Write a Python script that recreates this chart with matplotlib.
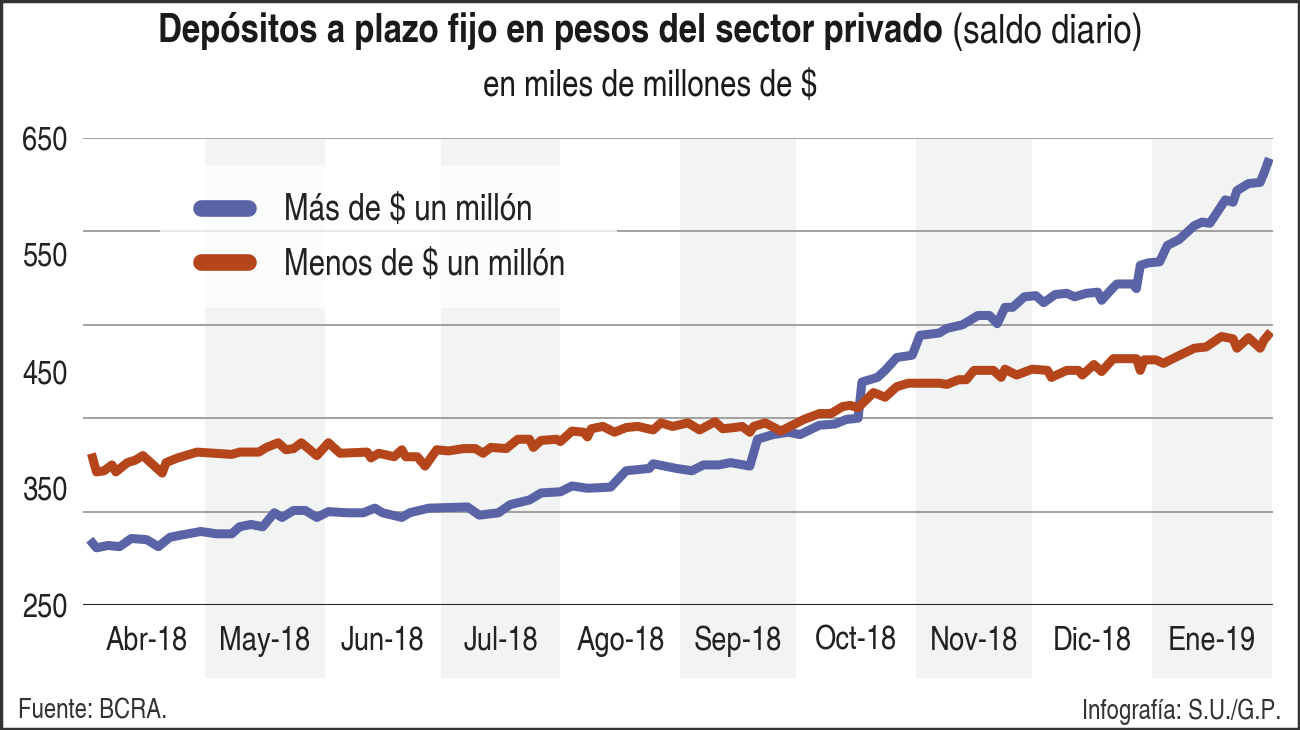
#Depósitos a plazo fijo en pesos del sector privado

import matplotlib.pyplot as plt
from matplotlib.lines import Line2D
from matplotlib.patches import Rectangle
import pandas as pd

plt.rcParams['font.family'] = ['TeX Gyre Heros Cn', 'Roboto Condensed', 'DejaVu Sans']

#Datos (miles de millones de $)
fechas_mas = ["2018-04-02", "2018-04-03", "2018-04-06", "2018-04-09", "2018-04-12", "2018-04-16",
              "2018-04-19", "2018-04-22", "2018-04-25", "2018-04-30", "2018-05-04", "2018-05-08",
              "2018-05-10", "2018-05-13", "2018-05-16", "2018-05-19", "2018-05-21", "2018-05-24",
              "2018-05-27", "2018-05-30", "2018-06-02", "2018-06-07", "2018-06-11", "2018-06-14",
              "2018-06-16", "2018-06-21", "2018-06-23", "2018-06-28", "2018-07-08", "2018-07-11",
              "2018-07-16", "2018-07-19", "2018-07-24", "2018-07-27", "2018-08-01", "2018-08-04",
              "2018-08-08", "2018-08-14", "2018-08-18", "2018-08-24", "2018-08-25", "2018-08-31",
              "2018-09-04", "2018-09-07", "2018-09-11", "2018-09-14", "2018-09-19", "2018-09-21",
              "2018-09-25", "2018-09-29", "2018-10-02", "2018-10-07", "2018-10-11", "2018-10-14",
              "2018-10-17", "2018-10-18", "2018-10-22", "2018-10-24", "2018-10-27", "2018-10-31",
              "2018-11-02", "2018-11-07", "2018-11-09", "2018-11-13", "2018-11-17", "2018-11-20",
              "2018-11-22", "2018-11-24", "2018-11-26", "2018-11-29", "2018-12-02", "2018-12-04",
              "2018-12-07", "2018-12-10", "2018-12-12", "2018-12-15", "2018-12-18", "2018-12-19",
              "2018-12-22", "2018-12-23", "2018-12-27", "2018-12-28", "2018-12-29", "2018-12-31",
              "2019-01-03", "2019-01-05", "2019-01-08", "2019-01-12", "2019-01-14", "2019-01-16",
              "2019-01-20", "2019-01-22", "2019-01-23", "2019-01-26", "2019-01-29", "2019-01-30",
              "2019-01-31"]
mas_millon = [303, 299, 301, 300, 307, 306, 300, 308, 310, 313, 311, 311,
              317, 319, 317, 329, 325, 331, 331, 325, 330, 329, 329, 333,
              329, 325, 329, 333, 334, 327, 329, 336, 340, 346, 347, 352,
              350, 351, 365, 367, 371, 367, 365, 370, 370, 372, 369, 392,
              396, 398, 396, 404, 405, 409, 410, 441, 445, 451, 462, 464,
              481, 483, 487, 490, 498, 498, 491, 505, 505, 514, 515, 509,
              516, 517, 514, 517, 518, 511, 522, 525, 525, 521, 541, 543,
              544, 558, 563, 575, 578, 577, 597, 595, 605, 611, 612, 620,
              629]

fechas_menos = ["2018-04-02", "2018-04-03", "2018-04-05", "2018-04-07", "2018-04-08", "2018-04-11",
                "2018-04-13", "2018-04-15", "2018-04-17", "2018-04-20", "2018-04-21", "2018-04-24",
                "2018-04-26", "2018-04-29", "2018-05-08", "2018-05-10", "2018-05-15", "2018-05-17",
                "2018-05-20", "2018-05-22", "2018-05-24", "2018-05-26", "2018-05-30", "2018-06-02",
                "2018-06-05", "2018-06-12", "2018-06-13", "2018-06-15", "2018-06-19", "2018-06-21",
                "2018-06-22", "2018-06-25", "2018-06-27", "2018-06-30", "2018-07-03", "2018-07-07",
                "2018-07-10", "2018-07-12", "2018-07-14", "2018-07-18", "2018-07-21", "2018-07-24",
                "2018-07-25", "2018-07-27", "2018-07-31", "2018-08-01", "2018-08-04", "2018-08-07",
                "2018-08-08", "2018-08-09", "2018-08-12", "2018-08-15", "2018-08-18", "2018-08-21",
                "2018-08-25", "2018-08-27", "2018-08-30", "2018-09-03", "2018-09-06", "2018-09-10",
                "2018-09-12", "2018-09-15", "2018-09-17", "2018-09-19", "2018-09-20", "2018-09-23",
                "2018-09-27", "2018-09-30", "2018-10-03", "2018-10-07", "2018-10-10", "2018-10-13",
                "2018-10-15", "2018-10-17", "2018-10-21", "2018-10-24", "2018-10-27", "2018-10-30",
                "2018-11-07", "2018-11-09", "2018-11-12", "2018-11-14", "2018-11-16", "2018-11-21",
                "2018-11-23", "2018-11-24", "2018-11-27", "2018-12-01", "2018-12-05", "2018-12-06",
                "2018-12-10", "2018-12-13", "2018-12-14", "2018-12-17", "2018-12-19", "2018-12-22",
                "2018-12-28", "2018-12-29", "2018-12-30", "2019-01-02", "2019-01-04", "2019-01-07",
                "2019-01-12", "2019-01-15", "2019-01-19", "2019-01-22", "2019-01-23", "2019-01-26",
                "2019-01-29", "2019-01-30", "2019-01-31"]
menos_millon = [376, 364, 365, 370, 364, 372, 374, 378, 372, 363, 372, 376,
                378, 381, 379, 381, 381, 385, 389, 383, 384, 389, 378, 389,
                380, 381, 376, 380, 377, 383, 377, 377, 369, 383, 382, 384,
                384, 380, 385, 384, 392, 392, 385, 391, 392, 390, 399, 398,
                394, 401, 403, 398, 402, 403, 400, 406, 403, 406, 400, 407,
                401, 402, 403, 398, 403, 406, 399, 404, 409, 414, 414, 420,
                421, 419, 432, 428, 437, 440, 440, 439, 443, 443, 451, 451,
                445, 452, 447, 452, 451, 445, 451, 451, 447, 456, 450, 461,
                461, 451, 460, 460, 457, 462, 470, 471, 480, 478, 470, 479,
                470, 477, 481]

meses = ["Abr-18", "May-18", "Jun-18", "Jul-18", "Ago-18", "Sep-18",
         "Oct-18", "Nov-18", "Dic-18", "Ene-19"]
inicio_meses = pd.date_range("2018-04-01", periods=11, freq="MS")

y_ticks = [250, 350, 450, 550, 650]
y_grid = [250, 330, 410, 490, 570, 650]

azul = "#5b63a7"
naranja = "#b5461c"

fig = plt.figure(figsize=(13, 7.3), dpi=100)
ax = fig.add_axes([0.0638, 0.1712, 0.9152, 0.6397])

#Franjas grises en meses alternos
for i in range(1, 10, 2):
    ax.axvspan(inicio_meses[i], inicio_meses[i + 1], ymin=-0.156, ymax=1,
               color="#f2f4f4", lw=0, clip_on=False, zorder=0)

for v in y_grid[1:]:
    ax.axhline(v, color="#9a9a9a", lw=1.3, zorder=1)
ax.axhline(250, color="#222222", lw=2.2, zorder=1)

ax.plot(pd.to_datetime(fechas_mas), mas_millon, color=azul, lw=6.5, zorder=3)
ax.plot(pd.to_datetime(fechas_menos), menos_millon, color=naranja, lw=6.5, zorder=3)

ax.set_ylim(250, 650)
ax.set_xlim(pd.Timestamp("2018-03-30 12:00"), pd.Timestamp("2019-02-01 06:00"))
ax.set_yticks(y_ticks)
ax.tick_params(axis="y", length=0, pad=11, labelsize=24, labelcolor="#222222")

medios = [inicio_meses[i] + (inicio_meses[i + 1] - inicio_meses[i]) / 2 for i in range(10)]
ax.set_xticks(medios)
ax.set_xticklabels(meses)
ax.tick_params(axis="x", length=0, pad=15, labelsize=24, labelcolor="#222222")

for s in ax.spines.values():
    s.set_visible(False)

#Caja blanca semitransparente detras de la leyenda
ax.add_patch(Rectangle((0.0647, 0.636), 0.384, 0.306, transform=ax.transAxes,
                       facecolor="white", alpha=0.75, lw=0, zorder=2))

#Leyenda
handles = [Line2D([], [], color=azul, lw=12, solid_capstyle="round"),
           Line2D([], [], color=naranja, lw=12, solid_capstyle="round")]
leg = ax.legend(handles, ["Más de $ un millón", "Menos de $ un millón"],
                loc="upper left", bbox_to_anchor=(0.0992, 0.882), fontsize=26,
                handlelength=1.3, handletextpad=1.0, labelspacing=0.55,
                borderpad=0, borderaxespad=0, frameon=False)
leg.set_zorder(4)
for t in leg.get_texts():
    t.set_color("#222222")

#Titulos (parte en negrita + parte normal, centrado el conjunto)
t1 = fig.text(0, 0.957, "Depósitos a plazo fijo en pesos del sector privado",
              ha="left", va="center", fontsize=29, fontweight="bold", color="#1a1a1a")
t2 = fig.text(0, 0.957, " (saldo diario)", ha="left", va="center",
              fontsize=29, color="#1a1a1a")
fig.canvas.draw()
w1 = t1.get_window_extent().width / fig.bbox.width
w2 = t2.get_window_extent().width / fig.bbox.width
x0 = 0.5 - (w1 + w2) / 2
t1.set_x(x0)
t2.set_x(x0 + w1)
fig.text(0.5, 0.882, "en miles de millones de $", ha="center", va="center",
         fontsize=26, color="#1a1a1a")

fig.text(0.014, 0.025, "Fuente: BCRA.", ha="left", va="center", fontsize=19.5, color="#333333")
fig.text(0.986, 0.025, "Infografía: S.U./G.P.", ha="right", va="center", fontsize=19.5,
         color="#333333")

#Marco
fig.patches.append(Rectangle((0.001, 0.001), 0.998, 0.997, transform=fig.transFigure,
                             fill=False, edgecolor="#333333", lw=2.5))

plt.savefig("out.png", dpi=100)
